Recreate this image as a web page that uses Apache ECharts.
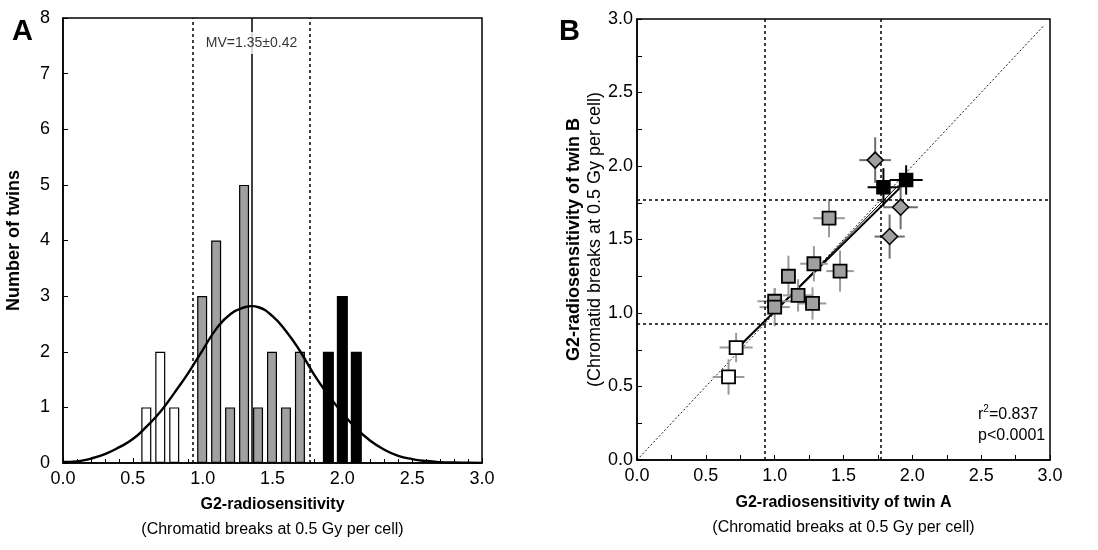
<!DOCTYPE html>
<html>
<head>
<meta charset="utf-8">
<script src="https://cdn.jsdelivr.net/npm/echarts@6/dist/echarts.min.js"></script>
<style>
  html, body { margin: 0; padding: 0; background: #fff; }
  #chart { width: 1098px; height: 550px; }
</style>
</head>
<body>
<div id="chart"></div>
<script>
// ---- panel A: histogram of G2 radiosensitivity ----
var lowBins  = [[0.6, 1], [0.7, 2], [0.8, 1]];
var midBins  = [[1.0, 3], [1.1, 4], [1.2, 1], [1.3, 5], [1.4, 1], [1.5, 2], [1.6, 1], [1.7, 2]];
var highBins = [[1.9, 2], [2.0, 3], [2.1, 2]];

// fitted curve
var curveX = [0.0, 0.1, 0.2, 0.3, 0.4, 0.5, 0.6, 0.7, 0.8, 0.9, 1.0, 1.1, 1.2, 1.3, 1.35, 1.4, 1.5, 1.6, 1.7, 1.8, 1.9, 2.0, 2.1, 2.2, 2.3, 2.4, 2.5, 2.6, 2.7, 2.8, 2.9, 3.0];
var curveY = [0.02, 0.03, 0.08, 0.16, 0.28, 0.43, 0.66, 0.93, 1.27, 1.63, 2.03, 2.42, 2.68, 2.80, 2.82, 2.80, 2.64, 2.36, 2.00, 1.58, 1.22, 0.90, 0.62, 0.40, 0.24, 0.13, 0.07, 0.035, 0.015, 0.008, 0.004, 0.002];

var meanVal = 1.35;
var sdLow = 0.93;
var sdHigh = 1.77;
var meanLabel = 'MV=1.35±0.42';
var meanLabelY = 7.55;

// ---- panel B: twin A vs twin B ----
var whiteA = [0.665, 0.72];
var whiteB = [0.565, 0.765];
var whiteEx = [0.115, 0.12];
var whiteEy = [0.12, 0.10];

var grayA = [1.0, 1.0, 1.10, 1.17, 1.285, 1.275, 1.395, 1.475];
var grayB = [1.08, 1.04, 1.25, 1.12, 1.335, 1.065, 1.645, 1.285];
var grayEx = [0.125, 0.11, 0.05, 0.11, 0.10, 0.10, 0.115, 0.10];
var grayEy = [0.09, 0.13, 0.14, 0.11, 0.12, 0.11, 0.13, 0.14];

var diaA = [1.73, 1.915, 1.835];
var diaB = [2.04, 1.72, 1.52];
var diaEx = [0.115, 0.125, 0.11];
var diaEy = [0.155, 0.15, 0.15];

var blackA = [1.79, 1.955];
var blackB = [1.855, 1.905];
var blackEx = [0.115, 0.12];
var blackEy = [0.13, 0.10];

var fitLine = [[0.70, 0.735], [1.925, 1.865]];
var fitLine2 = [[0.72, 0.745], [1.90, 1.87]];
var identity = [[0, 0], [2.95, 2.95]];
var statsText = ['r', '2', '=0.837', 'p<0.0001'];

var FONT = '"Liberation Sans", Arial, Helvetica, sans-serif';

function zip(a, b, c, d) {
  return a.map(function (v, i) { return [v, b[i], c ? c[i] : 0, d ? d[i] : 0]; });
}

function errorBars(color) {
  return function (params, api) {
    var x = api.value(0), y = api.value(1), ex = api.value(2), ey = api.value(3);
    var l = api.coord([x - ex, y]), r = api.coord([x + ex, y]);
    var b = api.coord([x, y - ey]), t = api.coord([x, y + ey]);
    var st = { stroke: color, lineWidth: 2 };
    return {
      type: 'group',
      children: [
        { type: 'line', shape: { x1: l[0], y1: l[1], x2: r[0], y2: r[1] }, style: st },
        { type: 'line', shape: { x1: b[0], y1: b[1], x2: t[0], y2: t[1] }, style: st }
      ]
    };
  };
}

var chart = echarts.init(document.getElementById('chart'), null, { renderer: 'canvas' });

var axisFont = { fontFamily: FONT, fontSize: 18, color: '#000' };
var richX = {
  b: { fontFamily: FONT, fontSize: 16, fontWeight: 'bold', color: '#000', lineHeight: 25 },
  n: { fontFamily: FONT, fontSize: 16, color: '#000', lineHeight: 25 }
};
var richY = {
  b: { fontFamily: FONT, fontSize: 18, fontWeight: 'bold', color: '#000', lineHeight: 21 },
  n: { fontFamily: FONT, fontSize: 18, color: '#000', lineHeight: 21 }
};

var dashV = { color: '#000', width: 1.5, type: [3, 3] };

option = {
  animation: false,
  backgroundColor: '#fff',
  grid: [
    { left: 63, top: 18, width: 419, height: 445, show: true, borderColor: '#000', borderWidth: 1.5, backgroundColor: 'transparent' },
    { left: 637, top: 19, width: 413, height: 441, show: true, borderColor: '#000', borderWidth: 1.5, backgroundColor: 'transparent' }
  ],
  xAxis: [
    {
      gridIndex: 0, type: 'value', min: 0, max: 3, interval: 0.5,
      axisLine: { lineStyle: { color: '#000', width: 1.5 } },
      axisTick: { inside: true, length: 5, lineStyle: { color: '#000' } },
      minorTick: { show: true, splitNumber: 5, length: 4, lineStyle: { color: '#000' } },
      splitLine: { show: false },
      axisLabel: Object.assign({ margin: 7, formatter: function (v) { return v.toFixed(1); } }, axisFont),
      name: '{b|G2-radiosensitivity}\n{n|(Chromatid breaks at 0.5 Gy per cell)}',
      nameLocation: 'middle', nameGap: 29,
      nameTextStyle: { rich: richX }
    },
    {
      gridIndex: 1, type: 'value', min: 0, max: 3, interval: 0.5,
      axisLine: { lineStyle: { color: '#000', width: 1.5 } },
      axisTick: { inside: true, length: 5, lineStyle: { color: '#000' } },
      minorTick: { show: true, splitNumber: 2, length: 5, lineStyle: { color: '#000' } },
      splitLine: { show: false },
      axisLabel: Object.assign({ margin: 7, formatter: function (v) { return v.toFixed(1); } }, axisFont),
      name: '{b|G2-radiosensitivity of twin A}\n{n|(Chromatid breaks at 0.5 Gy per cell)}',
      nameLocation: 'middle', nameGap: 30,
      nameTextStyle: { rich: richX }
    }
  ],
  yAxis: [
    {
      gridIndex: 0, type: 'value', min: 0, max: 8, interval: 1,
      axisLine: { lineStyle: { color: '#000', width: 1.5 } },
      axisTick: { inside: true, length: 5, lineStyle: { color: '#000' } },
      splitLine: { show: false },
      axisLabel: Object.assign({ margin: 13 }, axisFont),
      name: '{b|Number of twins}',
      nameLocation: 'middle', nameGap: 38,
      nameTextStyle: { rich: richY }
    },
    {
      gridIndex: 1, type: 'value', min: 0, max: 3, interval: 0.5,
      axisLine: { lineStyle: { color: '#000', width: 1.5 } },
      axisTick: { inside: true, length: 5, lineStyle: { color: '#000' } },
      minorTick: { show: true, splitNumber: 2, length: 5, lineStyle: { color: '#000' } },
      splitLine: { show: false },
      axisLabel: Object.assign({ margin: 4, formatter: function (v) { return v.toFixed(1); } }, axisFont),
      name: '{b|G2-radiosensitivity of twin B}\n{n|(Chromatid breaks at 0.5 Gy per cell)}',
      nameLocation: 'middle', nameGap: 23,
      nameTextStyle: { rich: richY }
    }
  ],
  graphic: [
    { type: 'text', left: 12, top: 17, style: { text: 'A', font: 'bold 29px ' + FONT, fill: '#000' } },
    { type: 'text', left: 559, top: 17, style: { text: 'B', font: 'bold 29px ' + FONT, fill: '#000' } },
    {
      type: 'text', left: 978, top: 404,
      style: {
        text: '{a|' + statsText[0] + '}{s|' + statsText[1] + '}{a|' + statsText[2] + '}\n{a|' + statsText[3] + '}',
        rich: {
          a: { fontFamily: FONT, fontSize: 16, fill: '#000', lineHeight: 21 },
          s: { fontFamily: FONT, fontSize: 10, fill: '#000', verticalAlign: 'top', lineHeight: 21, padding: [0, 0, 8, 0] }
        }
      }
    }
  ],
  series: [
    // panel A bars
    {
      type: 'bar', xAxisIndex: 0, yAxisIndex: 0, barWidth: 10, barGap: '-100%',
      itemStyle: { color: '#fff', borderColor: '#000', borderWidth: 1.2 },
      data: lowBins, z: 2
    },
    {
      type: 'bar', xAxisIndex: 0, yAxisIndex: 0, barWidth: 10, barGap: '-100%',
      itemStyle: { color: '#a0a0a0', borderColor: '#000', borderWidth: 1.2 },
      data: midBins, z: 2
    },
    {
      type: 'bar', xAxisIndex: 0, yAxisIndex: 0, barWidth: 11, barGap: '-100%',
      itemStyle: { color: '#000', borderColor: '#000', borderWidth: 1.2 },
      data: highBins, z: 2
    },
    // fitted curve + reference lines
    {
      type: 'line', xAxisIndex: 0, yAxisIndex: 0, smooth: true, showSymbol: false,
      lineStyle: { color: '#000', width: 2.4 },
      data: curveX.map(function (x, i) { return [x, curveY[i]]; }),
      z: 4,
      markLine: {
        silent: true, symbol: 'none', label: { show: false },
        data: [
          { xAxis: sdLow, lineStyle: dashV },
          { xAxis: meanVal, lineStyle: { color: '#000', width: 1.5, type: 'solid' } },
          { xAxis: sdHigh, lineStyle: dashV }
        ]
      }
    },
    {
      type: 'scatter', xAxisIndex: 0, yAxisIndex: 0, symbolSize: 0, z: 6,
      data: [[meanVal, meanLabelY]],
      label: {
        show: true, position: 'inside', formatter: meanLabel,
        fontFamily: FONT, fontSize: 14, color: '#000',
        backgroundColor: '#fff', padding: [4, 2]
      }
    },
    // panel B reference lines
    {
      type: 'line', xAxisIndex: 1, yAxisIndex: 1, showSymbol: false, z: 3,
      lineStyle: { color: '#000', width: 0.9, type: [2, 2] },
      data: identity,
      markLine: {
        silent: true, symbol: 'none', label: { show: false },
        data: [
          { xAxis: sdLow, lineStyle: dashV },
          { xAxis: sdHigh, lineStyle: dashV },
          { yAxis: sdLow, lineStyle: dashV },
          { yAxis: sdHigh, lineStyle: dashV }
        ]
      }
    },
    {
      type: 'line', xAxisIndex: 1, yAxisIndex: 1, showSymbol: false, z: 3,
      lineStyle: { color: '#000', width: 2 }, data: fitLine
    },
    {
      type: 'line', xAxisIndex: 1, yAxisIndex: 1, showSymbol: false, z: 3,
      lineStyle: { color: '#000', width: 1 }, data: fitLine2
    },
    // error bars
    { type: 'custom', xAxisIndex: 1, yAxisIndex: 1, z: 4, renderItem: errorBars('#9a9a9a'), data: zip(whiteA, whiteB, whiteEx, whiteEy) },
    { type: 'custom', xAxisIndex: 1, yAxisIndex: 1, z: 4, renderItem: errorBars('#9a9a9a'), data: zip(grayA, grayB, grayEx, grayEy) },
    { type: 'custom', xAxisIndex: 1, yAxisIndex: 1, z: 4, renderItem: errorBars('#6e6e6e'), data: zip(diaA, diaB, diaEx, diaEy) },
    { type: 'custom', xAxisIndex: 1, yAxisIndex: 1, z: 4, renderItem: errorBars('#000'), data: zip(blackA, blackB, blackEx, blackEy) },
    // markers
    {
      type: 'scatter', xAxisIndex: 1, yAxisIndex: 1, symbol: 'rect', symbolSize: 13, z: 5,
      itemStyle: { color: '#fff', borderColor: '#000', borderWidth: 1.8, opacity: 1 },
      data: zip(whiteA, whiteB)
    },
    {
      type: 'scatter', xAxisIndex: 1, yAxisIndex: 1, symbol: 'rect', symbolSize: 13, z: 5,
      itemStyle: { color: '#a0a0a0', borderColor: '#000', borderWidth: 1.8, opacity: 1 },
      data: zip(grayA, grayB)
    },
    {
      type: 'scatter', xAxisIndex: 1, yAxisIndex: 1, symbol: 'diamond', symbolSize: 16, z: 5,
      itemStyle: { color: '#a0a0a0', borderColor: '#000', borderWidth: 1.5, opacity: 1 },
      data: zip(diaA, diaB)
    },
    {
      type: 'scatter', xAxisIndex: 1, yAxisIndex: 1, symbol: 'rect', symbolSize: 13, z: 5,
      itemStyle: { color: '#000', borderColor: '#000', borderWidth: 1.5, opacity: 1 },
      data: zip(blackA, blackB)
    }
  ]
};

chart.setOption(option);
</script>
</body>
</html>
